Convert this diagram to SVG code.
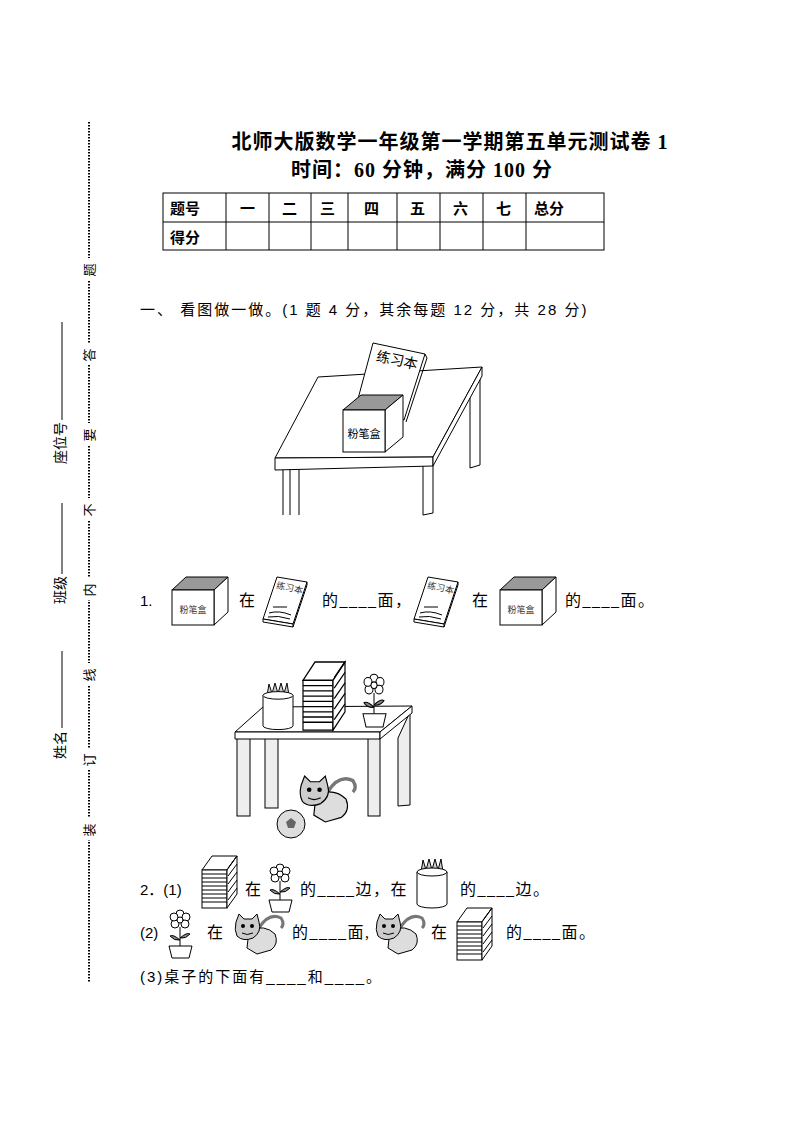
<svg xmlns="http://www.w3.org/2000/svg" width="794" height="1122" viewBox="0 0 794 1122">
<style>
text{font-family:"Liberation Serif","Noto Sans CJK SC",serif;fill:#000}
.t{font-size:16px;letter-spacing:1.5px}
.s{font-family:"Liberation Sans","Noto Sans CJK SC",sans-serif;font-size:15px}
.ln{stroke:#000;stroke-width:1;fill:none}
.lw{stroke:#000;stroke-width:1;fill:#fff}
.sm{font-size:9px;fill:#333}
</style>
<defs>
<g id="cube">
<polygon points="0,13 14,0 56,0 42,13" fill="#999" stroke="#000"/>
<polygon points="42,13 56,0 56,35 42,48" class="lw"/>
<rect x="0" y="13" width="42" height="35" class="lw"/>
<text x="21" y="36" class="sm" text-anchor="middle">粉笔盒</text>
</g>
<g id="book">
<polygon points="14,0 44,5 30,47 0,42" class="lw"/>
<polygon points="0,42 30,47 30,50 0,45" class="lw"/>
<line x1="44" y1="5" x2="44" y2="8" class="ln"/><line x1="44" y1="8" x2="30" y2="50" class="ln"/>
<text x="26" y="14" class="sm" text-anchor="middle" transform="rotate(12 26 14)">练习本</text>
<path d="M10,30 h14 M6,36 q10,-3 22,2 M5,40 q10,-2 22,2" class="ln"/>
</g>
<g id="books">
<polygon points="0,14 10,0 35,0 25,14" class="lw"/>
<rect x="0" y="14" width="25" height="38" class="lw"/>
<polygon points="25,14 35,0 35,38 25,52" class="lw"/>
<path d="M0,18h25M0,22h25M0,26h25M0,30h25M0,34h25M0,38h25M0,42h25M0,46h25" class="ln"/>
<path d="M26,12l9,-12M26,20l9,-12M26,28l9,-12M26,36l9,-12M26,44l9,-12" class="ln" stroke="#666"/>
</g>
<g id="flower">
<circle cx="12" cy="6" r="4" class="lw"/><circle cx="18" cy="9" r="4" class="lw"/><circle cx="17" cy="16" r="4" class="lw"/><circle cx="7" cy="16" r="4" class="lw"/><circle cx="6" cy="9" r="4" class="lw"/><circle cx="12" cy="12" r="3" class="lw"/>
<line x1="12" y1="19" x2="12" y2="38" class="ln"/>
<path d="M12,32 q-7,-6 -10,-4 q4,5 10,4 M12,30 q7,-6 10,-4 q-4,5 -10,4" fill="#888" stroke="#000"/>
<polygon points="1,38 24,38 21,50 4,50" class="lw"/>
</g>
<g id="cup">
<path d="M4,12 l2,-12 l3,10 l3,-11 l3,11 l3,-11 l3,11 l3,-11 l2,13" fill="#ccc" stroke="#000"/>
<path d="M0,12 v32 a15,4 0 0 0 30,0 v-32" class="lw"/>
<ellipse cx="15" cy="12" rx="15" ry="4" class="lw"/>
</g>
<g id="cat">
<path d="M24,14 q10,-16 22,-10 q4,6 0,10" fill="none" stroke="#777" stroke-width="3"/>
<path d="M14,16 q16,-6 26,4 q4,10 -4,16 l-14,4 l-10,-6 z" fill="#ddd" stroke="#000"/>
<path d="M1,8 l3,-8 l5,5 h8 l5,-5 l2,8 q3,10 -6,16 q-10,4 -16,-2 q-3,-6 -1,-14z" fill="#ccc" stroke="#000"/>
<circle cx="8" cy="12" r="2" fill="#000"/><circle cx="17" cy="12" r="2" fill="#000"/>
<path d="M7,19 q5,3 11,0" class="ln"/>
</g>
</defs>

<!-- margin -->
<line x1="89" y1="122" x2="89" y2="983" stroke="#000" stroke-width="2" stroke-dasharray="1.5,1.5"/>
<g font-size="13">
<rect x="80" y="258" width="18" height="22" fill="#fff"/><text transform="translate(94 270) rotate(-90)" text-anchor="middle" font-size="13">题</text>
<rect x="80" y="343" width="18" height="22" fill="#fff"/><text transform="translate(94 355) rotate(-90)" text-anchor="middle" font-size="13">答</text>
<rect x="80" y="423" width="18" height="22" fill="#fff"/><text transform="translate(94 435) rotate(-90)" text-anchor="middle" font-size="13">要</text>
<rect x="80" y="498" width="18" height="22" fill="#fff"/><text transform="translate(94 510) rotate(-90)" text-anchor="middle" font-size="13">不</text>
<rect x="80" y="578" width="18" height="22" fill="#fff"/><text transform="translate(94 590) rotate(-90)" text-anchor="middle" font-size="13">内</text>
<rect x="80" y="663" width="18" height="22" fill="#fff"/><text transform="translate(94 675) rotate(-90)" text-anchor="middle" font-size="13">线</text>
<rect x="80" y="748" width="18" height="22" fill="#fff"/><text transform="translate(94 760) rotate(-90)" text-anchor="middle" font-size="13">订</text>
<rect x="80" y="818" width="18" height="22" fill="#fff"/><text transform="translate(94 830) rotate(-90)" text-anchor="middle" font-size="13">装</text>
</g>
<text transform="translate(65 443) rotate(-90)" text-anchor="middle" font-size="14">座位号</text>
<line x1="62" y1="420" x2="62" y2="322" class="ln"/>
<text transform="translate(65 590) rotate(-90)" text-anchor="middle" font-size="14">班级</text>
<line x1="62" y1="574" x2="62" y2="503" class="ln"/>
<text transform="translate(65 745) rotate(-90)" text-anchor="middle" font-size="14">姓名</text>
<line x1="62" y1="728" x2="62" y2="651" class="ln"/>

<!-- title -->
<text x="450" y="149" text-anchor="middle" font-size="20" font-weight="bold" letter-spacing="1">北师大版数学一年级第一学期第五单元测试卷 1</text>
<text x="422" y="177" text-anchor="middle" font-size="20" font-weight="bold" letter-spacing="1">时间：60 分钟，满分 100 分</text>

<!-- score table -->
<g id="scoretable">
<rect x="163" y="193" width="441" height="57" class="ln"/>
<line x1="163" y1="222" x2="604" y2="222" class="ln"/>
<path d="M226,193v57M269,193v57M311,193v57M348,193v57M397,193v57M440,193v57M483,193v57M526,193v57" class="ln"/>
<g font-weight="bold">
<text x="170" y="214" class="s" font-size="16">题号</text><text x="170" y="243" class="s" font-size="16">得分</text>
<text x="240" y="214" class="s" font-size="16">一</text><text x="282" y="214" class="s" font-size="16">二</text><text x="320" y="214" class="s" font-size="16">三</text><text x="364" y="214" class="s" font-size="16">四</text><text x="410" y="214" class="s" font-size="16">五</text><text x="453" y="214" class="s" font-size="16">六</text><text x="496" y="214" class="s" font-size="16">七</text><text x="534" y="214" class="s" font-size="16">总分</text>
</g>
</g>

<text x="140" y="315" class="s" font-size="16" letter-spacing="2">一、  看图做一做。(1 题 4 分，其余每题 12 分，共 28 分)</text>

<!-- picture 1 -->
<g id="pic1">
<line x1="283" y1="468" x2="283" y2="515" class="ln"/><line x1="290" y1="468" x2="290" y2="515" class="ln"/><line x1="299" y1="468" x2="299" y2="515" class="ln"/>
<polygon points="470,380 480,372 480,465 470,468" class="lw"/>
<polygon points="423,463 433,460 433,513 423,515" class="lw"/>
<polygon points="275,458 318,377 482,367 433,457" class="lw"/>
<polygon points="275,458 433,457 433,466 275,470" class="lw"/>
<polygon points="433,457 482,367 482,376 433,466" class="lw"/>
<polygon points="373,343 425,354 404,420 355,410" class="lw"/>
<line x1="425" y1="354" x2="427" y2="358" class="ln"/><line x1="427" y1="358" x2="406" y2="422" class="ln"/>
<text x="396" y="365" font-size="14" text-anchor="middle" fill="#333" transform="rotate(12 396 365)">练习本</text>
<polygon points="343,410 361,395 403,395 385,410" fill="#999" stroke="#000"/>
<polygon points="385,410 403,395 403,437 385,452" class="lw"/>
<rect x="343" y="410" width="42" height="42" class="lw"/>
<text x="364" y="438" font-size="11" text-anchor="middle" fill="#333">粉笔盒</text>
</g>

<!-- line 1 -->
<text x="140" y="606" class="s" font-size="16">1.</text>
<use href="#cube" x="172" y="577"/>
<text x="239" y="606" class="t">在</text>
<use href="#book" x="263" y="577"/>
<text x="322" y="606" class="t">的____面，</text>
<use href="#book" x="414" y="577"/>
<text x="472" y="606" class="t">在</text>
<use href="#cube" x="500" y="577"/>
<text x="565" y="606" class="t">的____面。</text>

<!-- picture 2 -->
<g id="pic2">
<polygon points="398,738 410,712 410,805 398,806" fill="#eee" stroke="#000"/>
<rect x="265" y="738" width="13" height="70" fill="#eee" stroke="#000"/>
<rect x="237" y="738" width="13" height="78" fill="#eee" stroke="#000"/>
<rect x="368" y="738" width="12" height="78" fill="#eee" stroke="#000"/>
<polygon points="235,732 263,707 412,706 380,732" class="lw"/>
<polygon points="235,732 380,732 380,739 235,739" class="lw"/>
<polygon points="380,732 412,706 412,713 380,739" class="lw"/>
<use href="#cup" transform="translate(263 684) scale(1 0.95)"/>
<use href="#books" transform="translate(303 662) scale(1.2 1.31)"/>
<use href="#flower" transform="translate(362 672) scale(1 1.1)"/>
<use href="#cat" transform="translate(300 776) scale(1.15)"/>
<circle cx="291" cy="824" r="14" fill="#ddd" stroke="#000"/>
<polygon points="291,818 296,822 294,828 288,828 286,822" fill="#666"/>
</g>

<!-- line 2 -->
<text x="140" y="895" class="s" font-size="16">2．(1)</text>
<use href="#books" x="202" y="856"/>
<text x="245" y="895" class="t">在</text>
<use href="#flower" x="268" y="862"/>
<text x="300" y="895" class="t">的____边，在</text>
<use href="#cup" x="417" y="860"/>
<text x="460" y="895" class="t">的____边。</text>

<text x="140" y="938" class="s" font-size="16">(2)</text>
<use href="#flower" x="168" y="908"/>
<text x="207" y="938" class="t">在</text>
<use href="#cat" x="235" y="914"/>
<text x="292" y="938" class="t">的____面,</text>
<use href="#cat" x="376" y="914"/>
<text x="431" y="938" class="t">在</text>
<use href="#books" x="457" y="908"/>
<text x="506" y="938" class="t">的____面。</text>

<text x="140" y="982" class="s" font-size="16" letter-spacing="2">(3)桌子的下面有____和____。</text>
</svg>
